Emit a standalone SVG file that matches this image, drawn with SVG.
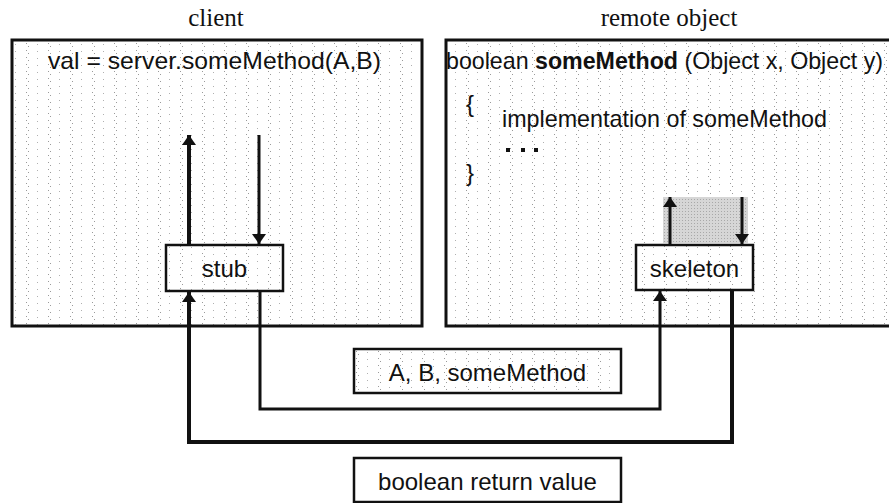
<svg xmlns="http://www.w3.org/2000/svg" width="889" height="503" viewBox="0 0 889 503">
<style>
.title{font-family:"Liberation Serif","Times New Roman",serif;font-size:25px;fill:#111}
.t{font-family:"Liberation Sans",Arial,sans-serif;font-size:24px;fill:#111}
.box{fill:url(#stip);stroke:#111;stroke-width:3}
.nb{fill:url(#stip);stroke:#111;stroke-width:2.5}
.wb{fill:#fff;stroke:#111;stroke-width:2.5}
.c{fill:none;stroke:#111;stroke-linejoin:miter}
</style>
<defs>
<pattern id="stip" width="22" height="7" patternUnits="userSpaceOnUse">
<rect width="22" height="7" fill="#fff"/>
<rect x="4" y="1" width="1" height="1" fill="#9a9a9a"/>
<rect x="6" y="4" width="1" height="1" fill="#9a9a9a"/>
<rect x="15" y="2" width="1" height="1" fill="#b0b0b0"/>
</pattern>
<pattern id="gray" width="3" height="3" patternUnits="userSpaceOnUse">
<rect width="3" height="3" fill="#d6d6d6"/>
<rect x="1" y="1" width="1" height="1" fill="#a8a8a8"/>
</pattern>
<marker id="ah" viewBox="0 0 10 14" refX="10" refY="7" markerWidth="10" markerHeight="14" markerUnits="userSpaceOnUse" orient="auto">
<path d="M0,0 L10,7 L0,14 Z" fill="#111"/>
</marker>
</defs>
<rect width="889" height="503" fill="#fff"/>
<text class="title" x="216" y="26" text-anchor="middle">client</text>
<text class="title" x="669" y="26" text-anchor="middle">remote object</text>

<g id="client">
<rect class="box" x="12" y="40" width="410" height="286"/>
<text class="t" x="48" y="69" textLength="333" lengthAdjust="spacingAndGlyphs">val = server.someMethod(A,B)</text>
</g>
<g id="remote">
<rect class="box" x="446" y="40" width="450" height="286"/>
<text class="t" x="446" y="69" textLength="437" lengthAdjust="spacingAndGlyphs">boolean <tspan font-weight="bold">someMethod</tspan> (Object x, Object y)</text>
<text class="t" x="466" y="112">{</text>
<text class="t" x="502" y="127" textLength="325" lengthAdjust="spacingAndGlyphs">implementation of someMethod</text>
<rect x="506" y="148" width="4" height="4" fill="#111"/>
<rect x="521" y="148" width="4" height="4" fill="#111"/>
<rect x="534" y="148" width="4" height="4" fill="#111"/>
<text class="t" x="466" y="181">}</text>
<rect x="663" y="197" width="85" height="46" fill="url(#gray)"/>
</g>
<g id="stub">
<rect class="nb" x="166" y="245" width="117" height="46"/>
<text class="t" x="224.500" y="277" text-anchor="middle">stub</text>
</g>
<g id="skeleton">
<rect class="nb" x="636" y="245" width="117" height="45"/>
<text class="t" x="694.500" y="277" text-anchor="middle">skeleton</text>
</g>
<g id="msg-args">
<rect class="nb" x="354" y="349" width="267" height="44"/>
<text class="t" x="487.500" y="381" text-anchor="middle">A, B, someMethod</text>
</g>
<g id="msg-return">
<rect class="wb" x="354" y="458" width="267" height="44"/>
<text class="t" x="487.500" y="490" text-anchor="middle">boolean return value</text>
</g>

<g id="connectors">
<line class="c" x1="189" y1="245" x2="189" y2="135" stroke-width="4" marker-end="url(#ah)"/>
<line class="c" x1="259" y1="135" x2="259" y2="244" stroke-width="3" marker-end="url(#ah)"/>
<line class="c" x1="670" y1="245" x2="670" y2="197" stroke-width="3" marker-end="url(#ah)"/>
<line class="c" x1="742" y1="197" x2="742" y2="244" stroke-width="3" marker-end="url(#ah)"/>
<path class="c" d="M260,291 V409 H660 V291" stroke-width="3" marker-end="url(#ah)"/>
<path class="c" d="M732,290 V442 H189 V292" stroke-width="4" marker-end="url(#ah)"/>
</g>
</svg>
